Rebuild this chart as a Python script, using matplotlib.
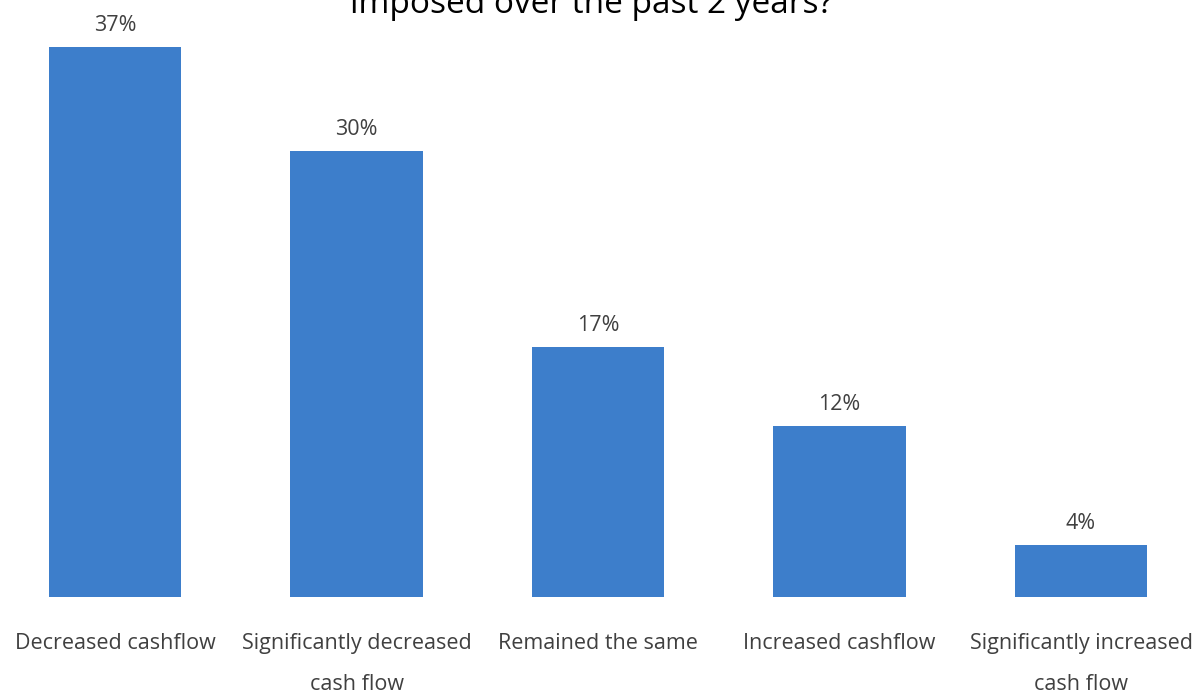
import matplotlib.pyplot as plt

categories = ["Decreased cashflow", "Significantly decreased\ncash flow",
              "Remained the same", "Increased cashflow",
              "Significantly increased\ncash flow"]
values = [37, 30, 16.8, 11.5, 3.5]
labels = ["37%", "30%", "17%", "12%", "4%"]

plt.rcParams['font.family'] = ['Open Sans', 'DejaVu Sans']

W, H = 1202, 695
fig = plt.figure(figsize=(W / 100, H / 100), dpi=100)

# axes placed in pixels: category pitch ~241.5 px, baseline at y=597
pitch = 241.5
left = 115 - pitch / 2
width = pitch * 5
base = 597
scale = 14.86  # px per percent
top = base - 40 * scale
ax = fig.add_axes([left / W, 1 - base / H, width / W, (base - top) / H])

x = range(len(categories))
bars = ax.bar(x, values, width=0.55, color="#3D7ECB")
ax.set_xlim(-0.5, 4.5)
ax.set_ylim(0, 40)

for b, lab in zip(bars, labels):
    ax.annotate(lab, (b.get_x() + b.get_width() / 2, b.get_height()),
                xytext=(0, 8), textcoords="offset points",
                ha="center", va="bottom", fontsize=15.5, color="#404040")

ax.set_xticks(list(x))
ax.set_xticklabels(categories, fontsize=15.5, color="#404040", linespacing=2.25)
ax.tick_params(axis="x", length=0, pad=26)
ax.set_yticks([])
for s in ax.spines.values():
    s.set_visible(False)

fig.text(591 / W, 1 - 12.7 / H, "imposed over the past 2 years?",
         ha="center", va="baseline", fontsize=24, color="black")

fig.savefig("out.png", dpi=100)
